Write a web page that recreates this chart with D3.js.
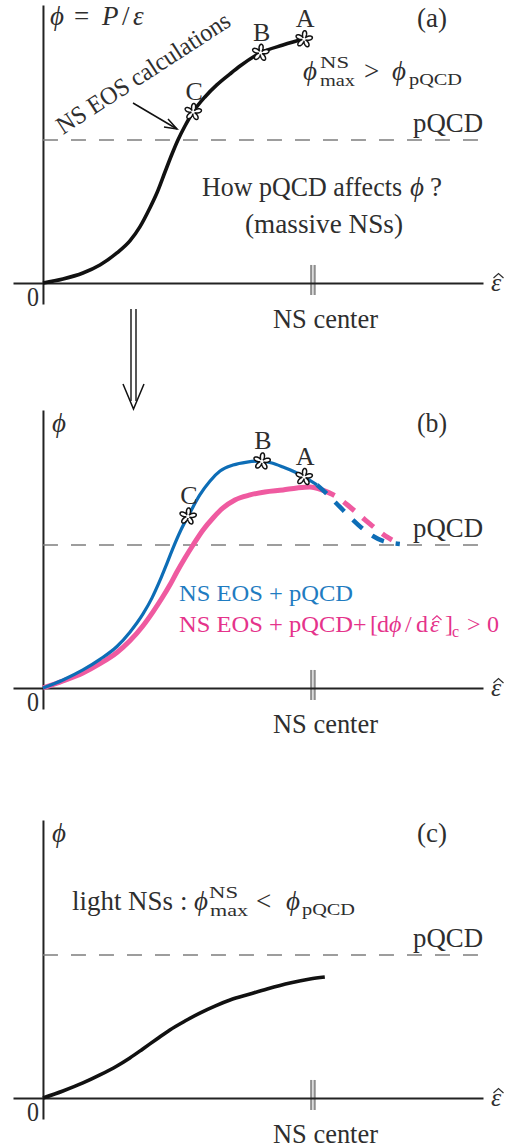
<!DOCTYPE html>
<html>
<head>
<meta charset="utf-8">
<script src="https://cdn.jsdelivr.net/npm/d3@7/dist/d3.min.js"></script>
<style>
  html, body { margin: 0; padding: 0; background: #fff; }
  svg { display: block; }
  text { font-family: "Liberation Serif", "DejaVu Serif", serif; fill: #2e2e2e; }
</style>
</head>
<body>
<svg id="chart" width="516" height="1148"></svg>
<script>
// ε̂ in units of the NS-center value, ϕ in units of the pQCD level.

// (a) NS EOS calculations
const epsA = [0, 0.074, 0.148, 0.211, 0.274, 0.322, 0.359, 0.396, 0.422, 0.452, 0.478, 0.500, 0.526, 0.556, 0.600, 0.644, 0.693, 0.730, 0.804, 0.889, 0.978];
const phiA = [0, 0.028, 0.070, 0.126, 0.210, 0.294, 0.392, 0.524, 0.629, 0.776, 0.902, 1.000, 1.098, 1.196, 1.301, 1.385, 1.462, 1.517, 1.608, 1.664, 1.713];

// (b) NS EOS + pQCD (solid part, then the dashed continuation)
const epsBlue = [0, 0.074, 0.148, 0.211, 0.274, 0.322, 0.370, 0.404, 0.433, 0.459, 0.481, 0.511, 0.544, 0.581, 0.619, 0.656, 0.704, 0.756, 0.804, 0.848, 0.889, 0.933, 0.967, 1.015];
const phiBlue = [0, 0.056, 0.126, 0.200, 0.290, 0.390, 0.516, 0.630, 0.750, 0.870, 0.975, 1.105, 1.224, 1.350, 1.448, 1.517, 1.559, 1.580, 1.587, 1.573, 1.545, 1.510, 1.476, 1.420];
const epsBlueDash = [1.015, 1.052, 1.100, 1.137, 1.181, 1.222, 1.259, 1.293, 1.322];
const phiBlueDash = [1.420, 1.357, 1.266, 1.196, 1.119, 1.063, 1.028, 1.014, 1.007];

// (b) NS EOS + pQCD + [dϕ/dε̂]c > 0
const epsPink = [0, 0.074, 0.148, 0.211, 0.274, 0.322, 0.370, 0.407, 0.441, 0.470, 0.496, 0.526, 0.556, 0.593, 0.630, 0.667, 0.711, 0.767, 0.822, 0.889, 0.941, 0.989, 1.033];
const phiPink = [0, 0.049, 0.105, 0.170, 0.248, 0.330, 0.434, 0.531, 0.629, 0.720, 0.811, 0.909, 1.000, 1.105, 1.189, 1.259, 1.315, 1.350, 1.371, 1.385, 1.399, 1.406, 1.385];
const epsPinkDash = [1.033, 1.089, 1.137, 1.185, 1.230, 1.274, 1.293];
const phiPinkDash = [1.385, 1.336, 1.266, 1.189, 1.119, 1.056, 1.035];

// (c) light NSs
const epsC = [0, 0.074, 0.148, 0.211, 0.274, 0.322, 0.370, 0.422, 0.470, 0.526, 0.581, 0.637, 0.693, 0.767, 0.830, 0.915, 0.989, 1.044];
const phiC = [0, 0.049, 0.105, 0.161, 0.224, 0.280, 0.343, 0.413, 0.476, 0.538, 0.594, 0.643, 0.685, 0.727, 0.762, 0.804, 0.832, 0.846];

// marked points A, B, C
const markLabels = ["A", "B", "C"];
const markEpsA = [0.967, 0.806, 0.556];
const markPhiA = [1.705, 1.610, 1.196];
const markEpsB = [0.967, 0.811, 0.537];
const markPhiB = [1.476, 1.585, 1.200];

const phiPQCD = 1;     // pQCD level
const nsCenter = 1;    // ε̂ at the NS center
const panelNames = ["(a)", "(b)", "(c)"];

const zip = (xs, ys) => xs.map((v, i) => [v, ys[i]]);

const svg = d3.select("#chart");
const x = d3.scaleLinear().domain([-0.111, 1.63]).range([13, 483]);
const y = d3.scaleLinear().domain([-0.147, 1.944]).range([304, 5]);
const offsets = [0, 405, 815];

const line = d3.line()
  .x(d => x(d[0])).y(d => y(d[1]))
  .curve(d3.curveMonotoneX);

const BLUE = "#0d6db6", PINK = "#ef5aa0";
const BLUE_TXT = "#1f7cc1", PINK_TXT = "#e5338b";

function put(g, px, py, str, o = {}) {
  const t = g.append("text").attr("x", px).attr("y", py)
    .attr("font-size", o.size || 27).text(str);
  if (o.it) t.attr("font-style", "italic");
  if (o.len) t.attr("textLength", o.len).attr("lengthAdjust", "spacingAndGlyphs");
  if (o.anchor) t.attr("text-anchor", o.anchor);
  if (o.fill) t.style("fill", o.fill);
  return t;
}

// ε with a hat on top
function epsHat(g, px, py, size, fill) {
  put(g, px, py, "ε", { it: true, size: size, fill: fill });
  const k = size / 26;
  g.append("path")
    .attr("d", `M${px + 2.5 * k},${py - 13 * k} L${px + 7.5 * k},${py - 17.5 * k} L${px + 12.5 * k},${py - 13 * k}`)
    .attr("fill", "none").attr("stroke", fill || "#2e2e2e").attr("stroke-width", 1.2);
}

function flowerPath(R) {
  const pts = [];
  for (let i = 0; i <= 240; i++) {
    const t = i / 240 * 2 * Math.PI;
    const r = R * (0.2 + 0.8 * Math.pow(Math.abs(Math.cos(2.5 * t)), 1.1));
    pts.push([r * Math.cos(t), r * Math.sin(t)]);
  }
  return d3.line()(pts) + "Z";
}

function frame(g, k) {
  // NS center marker
  [-1.7, 1.7].forEach(dx => {
    g.append("line")
      .attr("x1", x(nsCenter) + dx).attr("x2", x(nsCenter) + dx)
      .attr("y1", y(0.126)).attr("y2", y(-0.084))
      .attr("stroke", "#8e8e8e").attr("stroke-width", 2.2);
  });
  // axes
  g.append("g").attr("transform", `translate(0,${y(0)})`)
    .call(d3.axisBottom(x).tickValues([]).tickSizeOuter(0))
    .call(s => s.select(".domain").attr("stroke", "#222").attr("stroke-width", 2));
  g.append("g").attr("transform", `translate(${x(0)},0)`)
    .call(d3.axisLeft(y).tickValues([]).tickSizeOuter(0))
    .call(s => s.select(".domain").attr("stroke", "#222").attr("stroke-width", 2));
  // pQCD level
  g.append("line")
    .attr("x1", x(0)).attr("x2", x(1.622))
    .attr("y1", y(phiPQCD)).attr("y2", y(phiPQCD))
    .attr("stroke", "#7d7d7d").attr("stroke-width", 1.6)
    .attr("stroke-dasharray", "15,13");
  put(g, 413, 132, "pQCD", { len: 70 });
  put(g, 417, 27, panelNames[k], { len: 30 });
  put(g, 27, 306, "0", { len: 12 });
  epsHat(g, 491, 291, 26);
  put(g, 273, 328, "NS center", { len: 105 });
}

function marks(g, eps, phi) {
  eps.forEach((e, i) => {
    g.append("path")
      .attr("d", flowerPath(8.5))
      .attr("transform", `translate(${x(e)},${y(phi[i])}) rotate(-12)`)
      .attr("fill", "#fff").attr("stroke", "#111").attr("stroke-width", 1.5);
    put(g, x(e) + 1, y(phi[i]) - 12, markLabels[i], { size: 26, anchor: "middle" });
  });
}

// ---------- (a) ----------
const ga = svg.append("g").attr("transform", `translate(0,${offsets[0]})`);
frame(ga, 0);
{
  put(ga, 50, 25, "ϕ", { it: true });
  put(ga, 74, 25, "=");
  put(ga, 102, 25, "P", { it: true });
  put(ga, 122, 25, "/");
  put(ga, 133, 25, "ε", { it: true });

  put(ga, 202, 196, "How pQCD affects", { len: 200 });
  put(ga, 410, 196, "ϕ", { it: true });
  put(ga, 430, 196, "?");
  put(ga, 245, 233, "(massive NSs)", { len: 158 });

  put(ga, 303, 80, "ϕ", { it: true });
  put(ga, 320, 68, "NS", { size: 17, len: 29 });
  put(ga, 320, 86, "max", { size: 17, len: 35 });
  put(ga, 364, 80, ">");
  put(ga, 392, 80, "ϕ", { it: true });
  put(ga, 409, 85, "pQCD", { size: 17, len: 53 });

  ga.append("text")
    .attr("transform", "translate(63,135) rotate(-33)")
    .attr("font-size", 25).attr("textLength", 202).attr("lengthAdjust", "spacingAndGlyphs")
    .text("NS EOS calculations");

  // pointer to the curve
  ga.append("line").attr("x1", 133).attr("y1", 103).attr("x2", 177).attr("y2", 129)
    .attr("stroke", "#111").attr("stroke-width", 1.5);
  ga.append("path").attr("d", "M168,119 L177,129 L164,127")
    .attr("fill", "none").attr("stroke", "#111").attr("stroke-width", 1.5);

  ga.append("path").datum(zip(epsA, phiA)).attr("d", line)
    .attr("fill", "none").attr("stroke", "#111").attr("stroke-width", 3.6);
  marks(ga, markEpsA, markPhiA);
}

// arrow between (a) and (b)
svg.append("line").attr("x1", 131).attr("x2", 131).attr("y1", 309).attr("y2", 401)
  .attr("stroke", "#111").attr("stroke-width", 1.4);
svg.append("line").attr("x1", 136).attr("x2", 136).attr("y1", 309).attr("y2", 401)
  .attr("stroke", "#111").attr("stroke-width", 1.4);
svg.append("path").attr("d", "M123,384 L133.5,409 L144,384")
  .attr("fill", "none").attr("stroke", "#111").attr("stroke-width", 1.5);

// ---------- (b) ----------
const gb = svg.append("g").attr("transform", `translate(0,${offsets[1]})`);
frame(gb, 1);
{
  put(gb, 52, 27, "ϕ", { it: true });

  gb.append("path").datum(zip(epsPink, phiPink)).attr("d", line)
    .attr("fill", "none").attr("stroke", PINK).attr("stroke-width", 5);
  gb.append("path").datum(zip(epsPinkDash, phiPinkDash)).attr("d", line)
    .attr("fill", "none").attr("stroke", PINK).attr("stroke-width", 5)
    .attr("stroke-dasharray", "14,11");
  gb.append("path").datum(zip(epsBlue, phiBlue)).attr("d", line)
    .attr("fill", "none").attr("stroke", BLUE).attr("stroke-width", 3.2);
  gb.append("path").datum(zip(epsBlueDash, phiBlueDash)).attr("d", line)
    .attr("fill", "none").attr("stroke", BLUE).attr("stroke-width", 4.5)
    .attr("stroke-dasharray", "13,12");
  marks(gb, markEpsB, markPhiB);

  put(gb, 179, 196, "NS EOS + pQCD", { size: 24, len: 174, fill: BLUE_TXT });

  const py = 227;
  put(gb, 179, py, "NS EOS + pQCD", { size: 24, len: 174, fill: PINK_TXT });
  put(gb, 353, py, "+", { size: 24, fill: PINK_TXT });
  put(gb, 370, py, "[", { size: 24, fill: PINK_TXT });
  put(gb, 377, py, "d", { size: 24, fill: PINK_TXT });
  put(gb, 389, py, "ϕ", { size: 24, it: true, fill: PINK_TXT });
  put(gb, 405, py, "/", { size: 24, fill: PINK_TXT });
  put(gb, 416, py, "d", { size: 24, fill: PINK_TXT });
  epsHat(gb, 430, py, 24, PINK_TXT);
  put(gb, 445, py, "]", { size: 24, fill: PINK_TXT });
  put(gb, 452, py + 5, "c", { size: 16, fill: PINK_TXT });
  put(gb, 467, py, ">", { size: 24, fill: PINK_TXT });
  put(gb, 487, py, "0", { size: 24, fill: PINK_TXT });
}

// ---------- (c) ----------
const gc = svg.append("g").attr("transform", `translate(0,${offsets[2]})`);
frame(gc, 2);
{
  put(gc, 52, 27, "ϕ", { it: true });
  const by = 95;
  put(gc, 72, by, "light NSs", { len: 101 });
  put(gc, 180, by, ":");
  put(gc, 194, by, "ϕ", { it: true });
  put(gc, 209, by - 12, "NS", { size: 17, len: 29 });
  put(gc, 210, by + 6, "max", { size: 17, len: 38 });
  put(gc, 256, by, "<");
  put(gc, 286, by, "ϕ", { it: true });
  put(gc, 302, by + 5, "pQCD", { size: 17, len: 53 });

  gc.append("path").datum(zip(epsC, phiC)).attr("d", line)
    .attr("fill", "none").attr("stroke", "#111").attr("stroke-width", 3.6);
}
</script>
</body>
</html>
